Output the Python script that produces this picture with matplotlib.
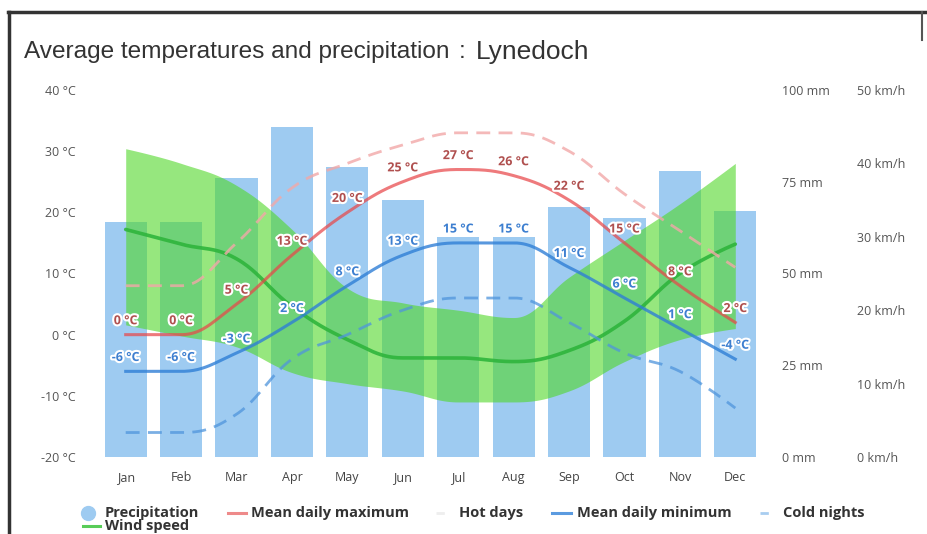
import numpy as np
import matplotlib
matplotlib.use("Agg")
import matplotlib.pyplot as plt
from matplotlib.lines import Line2D
import matplotlib.patheffects as pe

# ---------------- data ----------------
months = ["Jan", "Feb", "Mar", "Apr", "May", "Jun", "Jul", "Aug", "Sep", "Oct", "Nov", "Dec"]
precip_mm = [64, 64, 76, 90, 79, 70, 60, 60, 68, 65, 78, 67]
mean_max = [0, 0, 5, 13, 20, 25, 27, 26, 22, 15, 8, 2]
mean_min = [-6, -6, -3, 2, 8, 13, 15, 15, 11, 6, 1, -4]
hot_days = [8, 8, 15, 24, 28, 31, 33, 33, 30, 23, 17, 11]
cold_nights = [-16, -16, -13, -4, 0, 4, 6, 6, 2, -3, -6, -12]
wind_high = [42, 40, 37, 31, 23, 21, 20, 19, 24.5, 29.5, 34.5, 40]
wind_mean = [31, 29, 27, 20.5, 16, 13.5, 13.5, 13, 14.5, 18.5, 25, 29]
wind_low = [18, 16.5, 15, 11.5, 10, 9, 7.5, 7.5, 9, 13, 16, 17.5]
temp_ticks = [-20, -10, 0, 10, 20, 30, 40]
precip_ticks = [0, 25, 50, 75, 100]
wind_ticks = [0, 10, 20, 30, 40, 50]
title = "Average temperatures and precipitation"
place = "Lynedoch"


def hc_spline(xs, ys, n=40):
    """Highcharts-style spline (smoothing 1.5) sampled for plotting."""
    xs = np.asarray(xs, float)
    ys = np.asarray(ys, float)
    N = len(xs)
    lcx, lcy = xs.copy(), ys.copy()
    rcx, rcy = xs.copy(), ys.copy()
    sm = 1.5
    den = sm + 1
    for i in range(1, N - 1):
        x0, y0 = xs[i - 1], ys[i - 1]
        x1, y1 = xs[i], ys[i]
        x2, y2 = xs[i + 1], ys[i + 1]
        lx = (sm * x1 + x0) / den
        ly = (sm * y1 + y0) / den
        rx = (sm * x1 + x2) / den
        ry = (sm * y1 + y2) / den
        if rx != lx:
            corr = ((ry - ly) * (rx - x1)) / (rx - lx) + y1 - ry
            ly += corr
            ry += corr
        if ly > y0 and ly > y1:
            ly = max(y0, y1); ry = 2 * y1 - ly
        elif ly < y0 and ly < y1:
            ly = min(y0, y1); ry = 2 * y1 - ly
        if ry > y2 and ry > y1:
            ry = max(y2, y1); ly = 2 * y1 - ry
        elif ry < y2 and ry < y1:
            ry = min(y2, y1); ly = 2 * y1 - ry
        lcx[i], lcy[i], rcx[i], rcy[i] = lx, ly, rx, ry
    t = np.linspace(0, 1, n)
    ox, oy = [], []
    for i in range(N - 1):
        P0 = (xs[i], ys[i]); P1 = (rcx[i], rcy[i])
        P2 = (lcx[i + 1], lcy[i + 1]); P3 = (xs[i + 1], ys[i + 1])
        a = (1 - t) ** 3; b = 3 * (1 - t) ** 2 * t; c = 3 * (1 - t) * t ** 2; d = t ** 3
        bx = a * P0[0] + b * P1[0] + c * P2[0] + d * P3[0]
        by = a * P0[1] + b * P1[1] + c * P2[1] + d * P3[1]
        if i > 0:
            bx, by = bx[1:], by[1:]
        ox.append(bx); oy.append(by)
    return np.concatenate(ox), np.concatenate(oy)


W, H = 927, 534
fig = plt.figure(figsize=(W / 100, H / 100), dpi=100)
fig.patch.set_facecolor("white")

L, R, T, B = 98, 763, 90, 457
rect = [L / W, 1 - B / H, (R - L) / W, (B - T) / H]

FONT = "Open Sans"
TICKC = "#555555"

axp = fig.add_axes(rect)
axw = fig.add_axes(rect, sharex=axp)
axt = fig.add_axes(rect, sharex=axp)
for a in (axp, axw, axt):
    a.patch.set_visible(False)
    for s in a.spines.values():
        s.set_visible(False)
    a.tick_params(length=0)

x = np.arange(len(months))
axp.set_xlim(-0.5, 11.5)

# precipitation bars
axp.bar(x, precip_mm, width=0.76, color="#9ecbf1", zorder=1)
axp.set_ylim(0, 100)
axp.set_yticks(precip_ticks)
axp.set_yticklabels([f"{v} mm" for v in precip_ticks], fontsize=9, family=FONT, color=TICKC)
axp.yaxis.tick_right()
axp.tick_params(axis="y", pad=14)
for lab in axp.get_yticklabels():
    lab.set_horizontalalignment("left")
axp.set_xticks(x)
axp.set_xticklabels(months, fontsize=9, family=FONT, color="#444444")
axp.tick_params(axis="x", pad=10)

# wind band and mean
axw.set_ylim(0, 50)
wx, wh = hc_spline(x, wind_high)
_, wl = hc_spline(x, wind_low)
_, wm = hc_spline(x, wind_mean)
axw.fill_between(wx, wl, wh, color=(80 / 255, 215 / 255, 40 / 255), alpha=0.6, lw=0, zorder=1)
axw.plot(wx, wm, color="#2fb53c", lw=2.6, alpha=0.9, zorder=2, solid_capstyle="round")
axw.set_yticks(wind_ticks)
axw.set_yticklabels([f"{v} km/h" for v in wind_ticks], fontsize=9, family=FONT, color=TICKC)
axw.yaxis.tick_right()
axw.tick_params(axis="y", pad=68)
for lab in axw.get_yticklabels():
    lab.set_horizontalalignment("left")
axw.tick_params(axis="x", labelbottom=False)

# temperatures
axt.set_ylim(-20, 40)
hx, hy = hc_spline(x, hot_days)
axt.plot(hx, hy, color="#f2a8a8", lw=2, alpha=0.8, dashes=(5, 3), zorder=2)
cx, cy = hc_spline(x, cold_nights)
axt.plot(cx, cy, color="#4f95dc", lw=2, alpha=0.75, dashes=(5, 3), zorder=2)
mx, my = hc_spline(x, mean_max)
axt.plot(mx, my, color="#e8474a", lw=2.2, alpha=0.72, zorder=3)
nx, ny = hc_spline(x, mean_min)
axt.plot(nx, ny, color="#2f7fd6", lw=2.2, alpha=0.8, zorder=3)
axt.set_yticks(temp_ticks)
axt.set_yticklabels([f"{v} °C" for v in temp_ticks], fontsize=9, family=FONT, color=TICKC)
axt.tick_params(axis="y", pad=16)
axt.tick_params(axis="x", labelbottom=False)

halo = [pe.withStroke(linewidth=3, foreground="white")]
for i, v in enumerate(mean_max):
    axt.annotate(f"{v} °C", xy=(i, v), xytext=(0, 10), textcoords="offset points",
                 ha="center", va="center", fontsize=9, fontweight="bold", family=FONT,
                 color="#b0504f", path_effects=halo, zorder=5)
for i, v in enumerate(mean_min):
    axt.annotate(f"{v} °C", xy=(i, v), xytext=(0, 10), textcoords="offset points",
                 ha="center", va="center", fontsize=9, fontweight="bold", family=FONT,
                 color="#3d7fd0", path_effects=halo, zorder=5)

# title
ty = 1 - 52 / H
fig.text(24 / W, ty, title, fontsize=17.6, family="Liberation Sans",
         color="#333333", va="center", ha="left")
fig.text(459 / W, ty, ":", fontsize=17.6, family="Liberation Sans",
         color="#333333", va="center", ha="left")
fig.text(476 / W, ty, place, fontsize=19, family="Liberation Sans",
         color="#333333", va="center", ha="left")

# frame lines (scan border)
fig.add_artist(Line2D([8 / W, 1], [1 - 12 / H, 1 - 12 / H], color="#333333", lw=2.5))
fig.add_artist(Line2D([9 / W, 9 / W], [0, 1 - 12 / H], color="#333333", lw=2.5))
fig.add_artist(Line2D([922 / W, 922 / W], [1 - 12 / H, 1 - 40 / H], color="#555555", lw=1.5))

# legend
ly = 1 - 513 / H
fs = 10.5
LC = "#333333"
fig.add_artist(Line2D([88 / W], [ly], marker="o", ms=10, color="#9ecbf1", lw=0))
fig.text(105 / W, ly, "Precipitation", fontsize=fs, fontweight="bold", family=FONT, color=LC, va="center")
fig.add_artist(Line2D([228 / W, 246 / W], [ly, ly], color="#ee8a8a", lw=2.2))
fig.text(251 / W, ly, "Mean daily maximum", fontsize=fs, fontweight="bold", family=FONT, color=LC, va="center")
fig.add_artist(Line2D([436 / W, 450 / W], [ly, ly], color="#eeeeee", lw=2, dashes=(3, 3)))
fig.text(459 / W, ly, "Hot days", fontsize=fs, fontweight="bold", family=FONT, color=LC, va="center")
fig.add_artist(Line2D([552 / W, 571 / W], [ly, ly], color="#5b9be0", lw=2.2))
fig.text(577 / W, ly, "Mean daily minimum", fontsize=fs, fontweight="bold", family=FONT, color=LC, va="center")
fig.add_artist(Line2D([760 / W, 776 / W], [ly, ly], color="#a8cdf0", lw=2, dashes=(3, 3)))
fig.text(783 / W, ly, "Cold nights", fontsize=fs, fontweight="bold", family=FONT, color=LC, va="center")
ly2 = 1 - 526 / H
fig.add_artist(Line2D([83 / W, 100 / W], [ly2, ly2], color="#58cc58", lw=2.2))
fig.text(105 / W, ly2, "Wind speed", fontsize=fs, fontweight="bold", family=FONT, color=LC, va="center")

fig.savefig("out.png", dpi=100)
